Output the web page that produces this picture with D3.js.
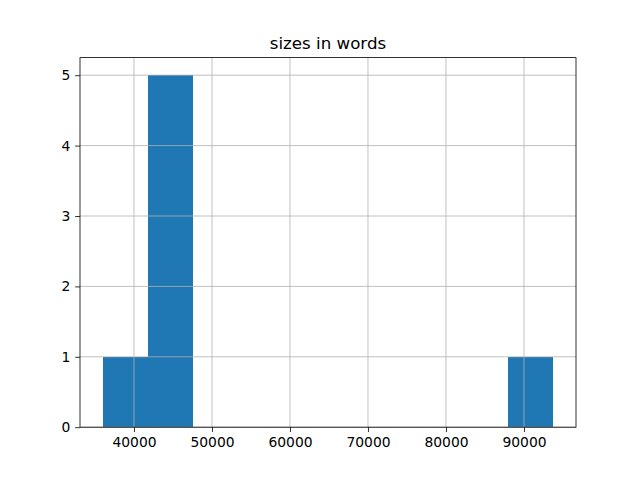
<!DOCTYPE html>
<html><head><meta charset="utf-8">
<script src="https://cdn.jsdelivr.net/npm/d3@7"></script>
<style>body{margin:0;background:#fff}svg{display:block}text{font-family:"DejaVu Sans",sans-serif}</style>
</head><body>
<svg id="c" width="640" height="480"></svg>
<script>
const title = "sizes in words";
const sizes = [35970, 42600, 43900, 44700, 45800, 47100, 93780];
const binCount = 10;
const xTicks = [40000, 50000, 60000, 70000, 80000, 90000];
const yTicks = [0, 1, 2, 3, 4, 5];

const svg = d3.select("#c");
const L = 80, R = 576, T = 57.6, B = 427.2;
const mn = d3.min(sizes), mx = d3.max(sizes);
const w = (mx - mn) / binCount;
const bins = d3.bin().domain([mn, mx]).thresholds(d3.range(1, binCount).map(i => mn + i * w))(sizes);
const pad = (mx - mn) * 0.05;
const x = d3.scaleLinear().domain([mn - pad, mx + pad]).range([L, R]);
const yMax = d3.max(bins, b => b.length);
const y = d3.scaleLinear().domain([0, yMax * 1.05]).range([B, T]);

svg.append("g").attr("shape-rendering", "crispEdges").selectAll("rect").data(bins).join("rect")
  .attr("x", d => x(d.x0)).attr("width", d => x(d.x1) - x(d.x0))
  .attr("y", d => y(d.length)).attr("height", d => B - y(d.length))
  .attr("fill", "#1f77b4");

const grid = svg.append("g").attr("stroke", "#b0b0b0").attr("stroke-width", 0.8);
xTicks.forEach(t => grid.append("line").attr("x1", x(t)).attr("x2", x(t)).attr("y1", T).attr("y2", B));
yTicks.forEach(t => grid.append("line").attr("x1", L).attr("x2", R).attr("y1", y(t)).attr("y2", y(t)));

const xa = d3.axisBottom(x).tickValues(xTicks).tickFormat(d3.format("d")).tickSizeInner(4.86).tickSizeOuter(0).tickPadding(4.86);
const ya = d3.axisLeft(y).tickValues(yTicks).tickFormat(d3.format("d")).tickSizeInner(4.86).tickSizeOuter(0).tickPadding(4.86);
const gx = svg.append("g").attr("transform", `translate(0,${B})`).call(xa);
const gy = svg.append("g").attr("transform", `translate(${L},0)`).call(ya);
[gx, gy].forEach(g => {
  g.select(".domain").remove();
  g.selectAll(".tick line").attr("stroke", "#000").attr("stroke-width", 0.8);
  g.selectAll("text").attr("font-size", "13.89px").attr("fill", "#000").attr("font-family", "DejaVu Sans, sans-serif");
});

svg.append("rect").attr("x", L).attr("y", T).attr("width", R - L).attr("height", B - T)
  .attr("fill", "none").attr("stroke", "#000").attr("stroke-width", 0.8);

svg.append("text").attr("x", (L + R) / 2).attr("y", T - 8.3).attr("text-anchor", "middle")
  .attr("font-size", "16.67px").attr("fill", "#000").text(title);
</script>
</body></html>
